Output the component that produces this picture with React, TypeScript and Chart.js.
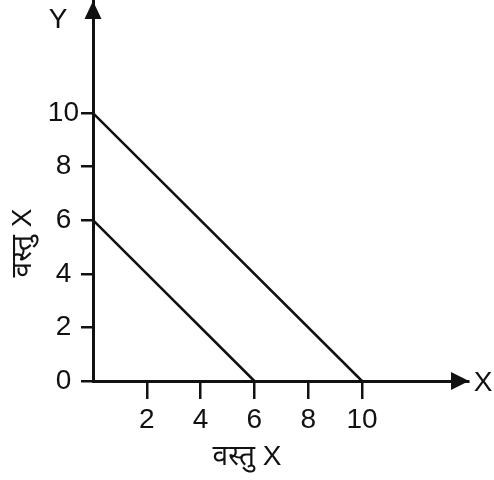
import React, { useEffect, useRef } from "react";
import { Chart, registerables } from "chart.js";

Chart.register(...registerables);

// ---- data ----
const innerLineX = [0, 6];
const innerLineY = [6, 0];
const outerLineX = [0, 10];
const outerLineY = [10, 0];
const xTickValues = [2, 4, 6, 8, 10];
const yTickValues = [0, 2, 4, 6, 8, 10];
const xAxisEndLabel = "X";
const yAxisEndLabel = "Y";
const xAxisTitle = "वस्तु X";
const yAxisTitle = "वस्तु X";

const FONT_FAMILY = '"Liberation Sans", Arial, "Noto Sans", sans-serif';
const FONT_SIZE = 28;
const INK = "#111111";

const axesDecorPlugin = {
  id: "axesDecor",
  afterDraw(chart: any) {
    const { ctx, chartArea } = chart;
    const { left, right, top, bottom } = chartArea;
    ctx.save();
    ctx.fillStyle = INK;
    // Y arrow
    ctx.beginPath();
    ctx.moveTo(left, top);
    ctx.lineTo(left - 8.5, top + 18);
    ctx.lineTo(left + 8.5, top + 18);
    ctx.closePath();
    ctx.fill();
    // X arrow
    ctx.beginPath();
    ctx.moveTo(right + 1, bottom);
    ctx.lineTo(right - 17, bottom - 9);
    ctx.lineTo(right - 17, bottom + 9);
    ctx.closePath();
    ctx.fill();

    ctx.font = `${FONT_SIZE}px ${FONT_FAMILY}`;
    ctx.textAlign = "center";
    ctx.textBaseline = "middle";
    ctx.fillText(yAxisEndLabel, left - 35, top + 19);
    ctx.fillText(xAxisEndLabel, right + 15, bottom + 2);
    ctx.fillText(xAxisTitle, 247, 457);
    ctx.translate(23, 243);
    ctx.rotate(-Math.PI / 2);
    ctx.fillText(yAxisTitle, 0, 0);
    ctx.restore();
  },
};

export default function App() {
  const canvasRef = useRef<HTMLCanvasElement | null>(null);

  useEffect(() => {
    if (!canvasRef.current) return;
    const toPoints = (xs: number[], ys: number[]) => xs.map((x, i) => ({ x, y: ys[i] }));
    const chart = new Chart(canvasRef.current, {
      type: "line",
      data: {
        datasets: [
          {
            data: toPoints(outerLineX, outerLineY),
            borderColor: INK,
            borderWidth: 2.5,
            pointRadius: 0,
            fill: false,
            clip: false as any,
          },
          {
            data: toPoints(innerLineX, innerLineY),
            borderColor: INK,
            borderWidth: 2.5,
            pointRadius: 0,
            fill: false,
            clip: false as any,
          },
        ],
      },
      options: {
        animation: false,
        responsive: false,
        devicePixelRatio: 1,
        layout: { padding: { left: 0, top: 1, right: 26, bottom: 0 } },
        plugins: { legend: { display: false }, tooltip: { enabled: false } },
        scales: {
          x: {
            type: "linear",
            min: 0,
            max: 13.94,
            afterBuildTicks: (scale: any) => {
              scale.ticks = xTickValues.map((v) => ({ value: v }));
            },
            afterFit: (scale: any) => {
              scale.height = 99;
              scale.paddingLeft = 0;
              scale.paddingRight = 0;
            },
            border: { display: true, color: INK, width: 3 },
            grid: {
              drawOnChartArea: false,
              drawTicks: true,
              tickLength: 18,
              color: INK,
              lineWidth: 2.5,
            },
            ticks: {
              color: INK,
              font: { family: FONT_FAMILY, size: FONT_SIZE },
              padding: 4,
              maxRotation: 0,
              autoSkip: false,
            },
          },
          y: {
            type: "linear",
            min: 0,
            max: 14.18,
            afterBuildTicks: (scale: any) => {
              scale.ticks = yTickValues.map((v) => ({ value: v }));
            },
            afterFit: (scale: any) => {
              scale.width = 93;
              scale.paddingTop = 0;
              scale.paddingBottom = 0;
            },
            border: { display: true, color: INK, width: 3 },
            grid: {
              drawOnChartArea: false,
              drawTicks: true,
              tickLength: 12,
              color: INK,
              lineWidth: 2.5,
            },
            ticks: {
              color: INK,
              font: { family: FONT_FAMILY, size: FONT_SIZE },
              padding: 2,
              crossAlign: "center",
              autoSkip: false,
            },
          },
        },
      },
      plugins: [axesDecorPlugin],
    });
    return () => chart.destroy();
  }, []);

  return (
    <div style={{ position: "absolute", left: 0, top: 0, width: 494, height: 480, background: "#fff" }}>
      <canvas ref={canvasRef} width={494} height={480} />
    </div>
  );
}
